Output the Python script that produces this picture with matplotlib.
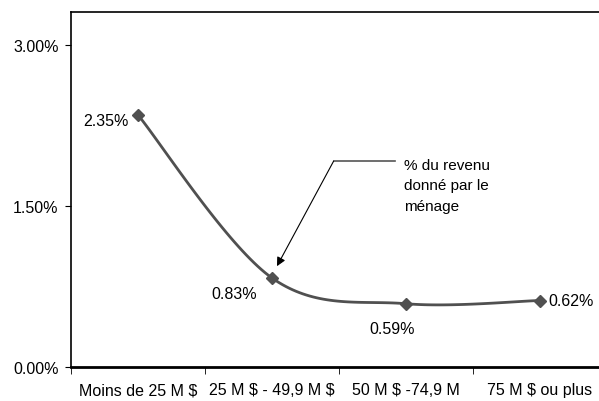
import numpy as np
import matplotlib.pyplot as plt
from matplotlib.ticker import FuncFormatter

plt.rcParams['font.family'] = ['Liberation Sans', 'DejaVu Sans']
plt.rcParams['text.parse_math'] = False

categories = ["Moins de 25 M $", "25 M $ - 49,9 M $", "50 M $ -74,9 M", "75 M $ ou plus"]
values = [2.35, 0.83, 0.59, 0.62]
labels = ["2.35%", "0.83%", "0.59%", "0.62%"]


def smooth(x, y, n=40):
    # catmull-rom, like excel's smoothed line
    x = np.asarray(x, float)
    y = np.asarray(y, float)
    px = np.concatenate([[x[0]], x, [x[-1]]])
    py = np.concatenate([[y[0]], y, [y[-1]]])
    xs, ys = [], []
    t = np.linspace(0, 1, n)
    for i in range(1, len(px) - 2):
        for p, out in ((px, xs), (py, ys)):
            p0, p1, p2, p3 = p[i - 1], p[i], p[i + 1], p[i + 2]
            c1 = p1 + (p2 - p0) / 6
            c2 = p2 - (p3 - p1) / 6
            out.extend((1 - t) ** 3 * p1 + 3 * (1 - t) ** 2 * t * c1 + 3 * (1 - t) * t ** 2 * c2 + t ** 3 * p2)
    return np.array(xs), np.array(ys)


fig = plt.figure(figsize=(5.99, 4.02), dpi=100)
ax = fig.add_axes([71 / 599, 34 / 402, 536 / 599, 355 / 402])

x = np.arange(len(values))
sx, sy = smooth(x, values)
ax.plot(sx, sy, color="#505050", lw=2)
ax.plot(x, values, "D", color="#505050", ms=6.5)

fs = 11.5
ax.set_xlim(-0.5, 3.5)
ax.set_ylim(0, 3.31)
ax.set_yticks([0, 1.5, 3.0])
ax.yaxis.set_major_formatter(FuncFormatter(lambda v, p: "%.2f%%" % v))
ax.set_xticks(x)
ax.set_xticklabels(categories)
ax.set_xticks(np.arange(-0.5, 4, 1), minor=True)
ax.tick_params(axis="x", which="major", length=0, pad=11, labelsize=fs)
ax.tick_params(axis="x", which="minor", length=5, direction="out")
ax.tick_params(axis="y", length=4, labelsize=fs, pad=5)

ax.spines["right"].set_visible(False)
ax.spines["bottom"].set_linewidth(2)
ax.spines["left"].set_linewidth(1.2)
ax.spines["top"].set_linewidth(1.2)

ax.annotate(labels[0], (x[0], values[0]), xytext=(-7, -4), textcoords="offset points", ha="right", va="center", fontsize=fs)
ax.annotate(labels[1], (x[1], values[1]), xytext=(-27, -11), textcoords="offset points", ha="center", va="center", fontsize=fs)
ax.annotate(labels[2], (x[2], values[2]), xytext=(-10, -18), textcoords="offset points", ha="center", va="center", fontsize=fs)
ax.annotate(labels[3], (x[3], values[3]), xytext=(6, 0), textcoords="offset points", ha="left", va="center", fontsize=fs)

# callout
ax.annotate("", xy=(1.037, 0.94), xytext=(1.46, 1.92),
            arrowprops=dict(arrowstyle="-|>", color="black", lw=0.8, mutation_scale=13, shrinkA=0, shrinkB=0))
ax.plot([1.46, 1.92], [1.92, 1.92], color="#555555", lw=1.2)
ax.text(1.985, 1.95, "% du revenu\ndonné par le\nménage", ha="left", va="top", fontsize=11, linespacing=1.6)

fig.savefig("out.png", dpi=100)
